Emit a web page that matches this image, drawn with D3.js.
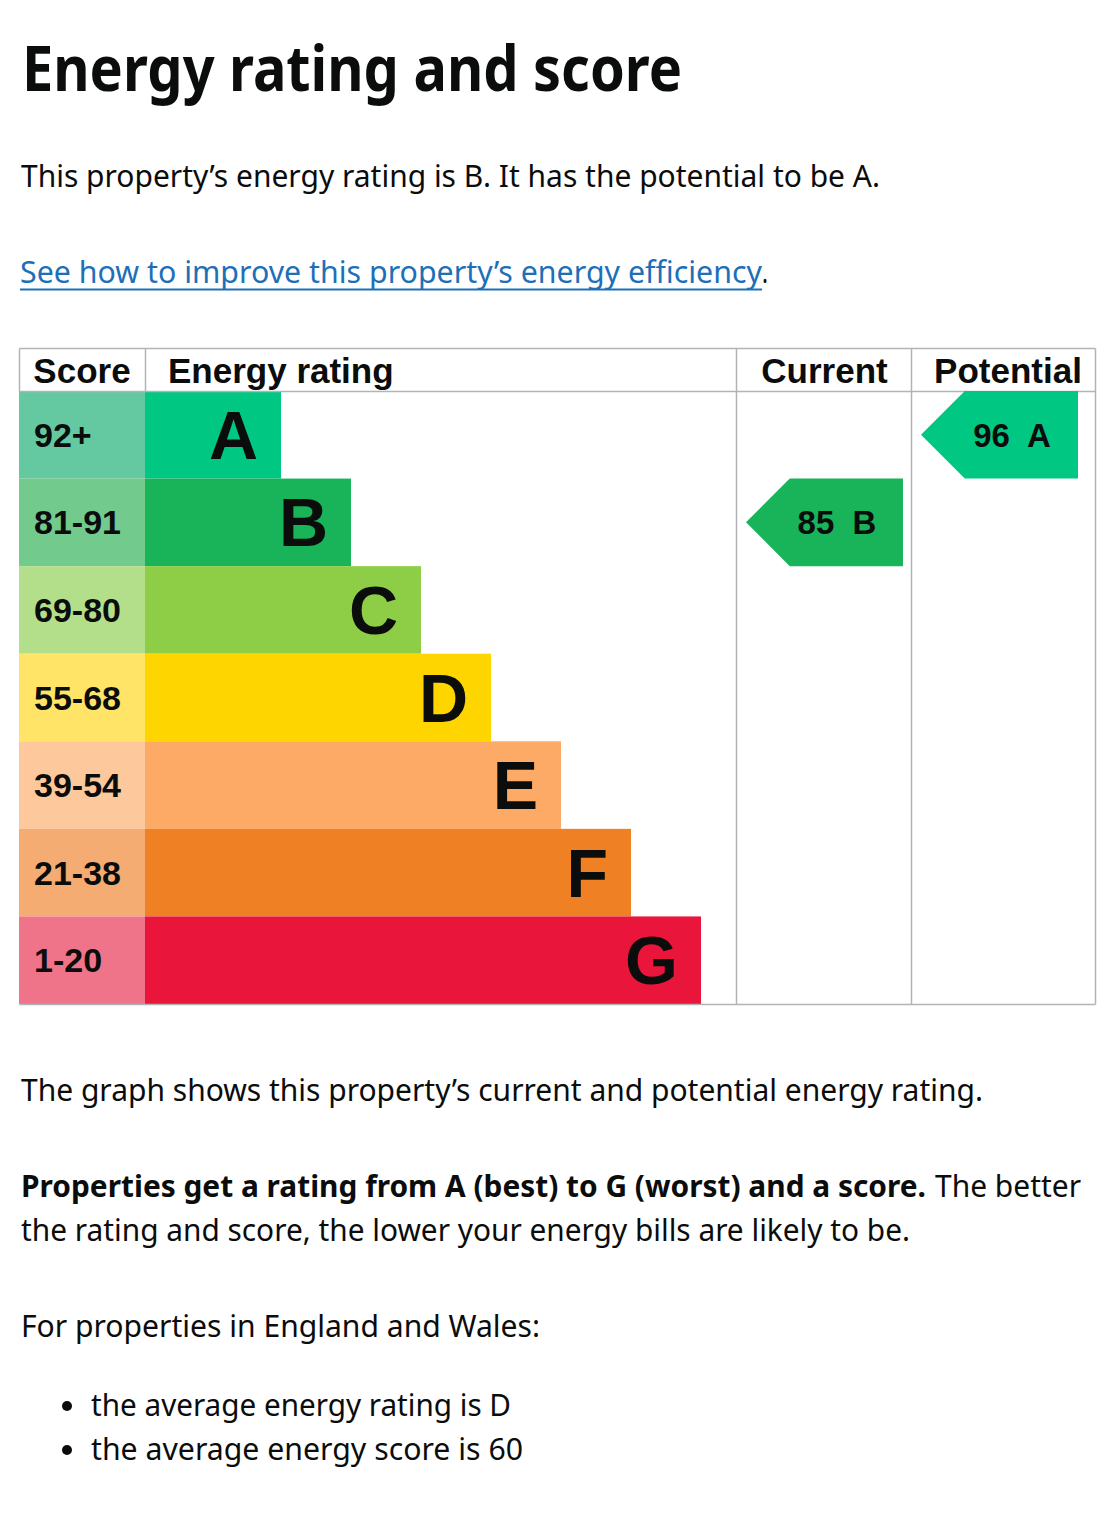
<!DOCTYPE html>
<html>
<head>
<meta charset="utf-8">
<script src="https://cdn.jsdelivr.net/npm/d3@7"></script>
<style>
  body { margin: 0; background: #fff; }
  text { white-space: pre; }
</style>
</head>
<body>
<div id="chart"></div>
<script>
// chart data
var bands = ['A', 'B', 'C', 'D', 'E', 'F', 'G'];
var scoreRanges = ['92+', '81-91', '69-80', '55-68', '39-54', '21-38', '1-20'];
var bandColors = ['#00c781', '#19b459', '#8dce46', '#ffd500', '#fcaa65', '#ef8023', '#e9153b'];
var scoreColors = ['#64c8a0', '#72cb8d', '#b4df8a', '#ffe467', '#fec89d', '#f4ac73', '#f07489'];
var columns = ['Score', 'Energy rating', 'Current', 'Potential'];
var ratings = [
    {column: 'Current', score: 85, band: 'B'},
    {column: 'Potential', score: 96, band: 'A'}
];

var W = 1112, H = 1516;
var arialB = '"Liberation Sans", Arial, sans-serif';
var body = '"Noto Sans", "Open Sans", sans-serif';
var ink = '#0b0c0c', grid = '#b1b4b6';

var svg = d3.select('#chart').append('svg')
    .attr('width', W).attr('height', H);

function para(txt, x, y, len, size, weight, fill) {
    return svg.append('text')
        .attr('x', x).attr('y', y)
        .attr('textLength', len).attr('lengthAdjust', 'spacingAndGlyphs')
        .style('font-family', body).style('font-size', size + 'px')
        .style('font-weight', weight || 400).style('fill', fill || ink)
        .text(txt);
}

// heading + intro
para('Energy rating and score', 22, 91, 660, 62, 700);
para('This property\u2019s energy rating is B. It has the potential to be A.', 21, 187, 859, 30);
para('See how to improve this property\u2019s energy efficiency', 20, 283, 742, 30, 400, '#1d70b8');
svg.append('line').attr('x1', 20).attr('x2', 762).attr('y1', 289.5).attr('y2', 289.5)
    .style('stroke', '#1d70b8').style('stroke-width', 2);
para('.', 762, 283, 6, 30);

// chart layout
var colEdges = [19, 145, 736, 911, 1095];
var headOffset = [0, 23, 1, 5];
var chartTop = 348, headH = 43, chartBottom = 1004;

var y = d3.scaleBand().domain(bands).range([chartTop + headH, chartBottom]);
var barEnd = d3.scaleLinear().domain([0, bands.length - 1]).range([281, 701]);

var g = svg.append('g');

// header cells
g.selectAll('text.head')
    .data(columns)
    .enter()
    .append('text')
    .classed('head', true)
    .attr('x', function(d, i) { return i == 1 ? colEdges[1] + headOffset[i] : (colEdges[i] + colEdges[i + 1]) / 2 + headOffset[i]; })
    .attr('y', chartTop + 35)
    .attr('text-anchor', function(d, i) { return i == 1 ? 'start' : 'middle'; })
    .style('font-family', arialB).style('font-weight', 700).style('font-size', '35px')
    .style('fill', ink)
    .text(function(d) { return d; });

// score cells
g.selectAll('rect.score')
    .data(bands)
    .enter()
    .append('rect')
    .classed('score', true)
    .attr('x', colEdges[0]).attr('y', function(d) { return y(d); })
    .attr('width', colEdges[1] - colEdges[0]).attr('height', y.bandwidth())
    .style('fill', function(d, i) { return scoreColors[i]; });

g.selectAll('text.score')
    .data(bands)
    .enter()
    .append('text')
    .classed('score', true)
    .attr('x', colEdges[0] + 15)
    .attr('y', function(d) { return y(d) + y.bandwidth() / 2 + 12; })
    .style('font-family', arialB).style('font-weight', 700).style('font-size', '34px')
    .style('fill', ink)
    .text(function(d, i) { return scoreRanges[i]; });

// rating bars
g.selectAll('rect.bar')
    .data(bands)
    .enter()
    .append('rect')
    .classed('bar', true)
    .attr('x', colEdges[1]).attr('y', function(d) { return y(d); })
    .attr('width', function(d, i) { return barEnd(i) - colEdges[1]; })
    .attr('height', y.bandwidth())
    .style('fill', function(d, i) { return bandColors[i]; });

g.selectAll('text.bar')
    .data(bands)
    .enter()
    .append('text')
    .classed('bar', true)
    .attr('x', function(d, i) { return barEnd(i) - 23; })
    .attr('y', function(d) { return y(d) + y.bandwidth() / 2 + 24; })
    .attr('text-anchor', 'end')
    .style('font-family', arialB).style('font-weight', 700).style('font-size', '68px')
    .style('fill', ink)
    .text(function(d) { return d; });

// grid lines
var lines = [
    [colEdges[0], chartTop, colEdges[4], chartTop],
    [colEdges[0], chartTop + headH, colEdges[4], chartTop + headH],
    [colEdges[0], chartBottom, colEdges[4], chartBottom],
    [colEdges[0], chartTop, colEdges[0], chartTop + headH],
    [colEdges[1], chartTop, colEdges[1], chartTop + headH],
    [colEdges[2], chartTop, colEdges[2], chartBottom],
    [colEdges[3], chartTop, colEdges[3], chartBottom],
    [colEdges[4], chartTop, colEdges[4], chartBottom]
];
g.selectAll('line.grid')
    .data(lines)
    .enter()
    .append('line')
    .classed('grid', true)
    .attr('x1', function(d) { return d[0] + 0.5; }).attr('y1', function(d) { return d[1] + 0.5; })
    .attr('x2', function(d) { return d[2] + 0.5; }).attr('y2', function(d) { return d[3] + 0.5; })
    .style('stroke', grid).style('stroke-width', 1.5);

// current / potential arrows
var arrowW = 157;
function arrowPath(d) {
    var x0 = colEdges[columns.indexOf(d.column)] + 10;
    var y0 = y(d.band), h = y.bandwidth();
    var p = d3.path();
    p.moveTo(x0, y0 + h / 2);
    p.lineTo(x0 + h / 2, y0);
    p.lineTo(x0 + arrowW, y0);
    p.lineTo(x0 + arrowW, y0 + h);
    p.lineTo(x0 + h / 2, y0 + h);
    p.closePath();
    return p.toString();
}

var arrows = g.selectAll('g.arrow')
    .data(ratings)
    .enter()
    .append('g')
    .classed('arrow', true);

arrows.append('path')
    .attr('d', arrowPath)
    .style('fill', function(d) { return bandColors[bands.indexOf(d.band)]; });

arrows.append('text')
    .attr('x', function(d) { return colEdges[columns.indexOf(d.column)] + 10 + 91; })
    .attr('y', function(d) { return y(d.band) + y.bandwidth() / 2 + 12; })
    .attr('text-anchor', 'middle')
    .style('font-family', arialB).style('font-weight', 700).style('font-size', '33px')
    .style('fill', ink)
    .text(function(d) { return d.score + '  ' + d.band; });

// text below
para('The graph shows this property\u2019s current and potential energy rating.', 21, 1101, 962, 30);
para('Properties get a rating from A (best) to G (worst) and a score.', 21, 1197, 905, 30, 700);
para('The better', 935, 1197, 146, 30);
para('the rating and score, the lower your energy bills are likely to be.', 21, 1241, 889, 30);
para('For properties in England and Wales:', 21, 1337, 519, 30);

var bullets = ['the average energy rating is D', 'the average energy score is 60'];
bullets.forEach(function(b, i) {
    svg.append('circle').attr('cx', 67).attr('cy', 1406 + i * 44).attr('r', 5).style('fill', ink);
    para(b, 91, 1416 + i * 44, i == 0 ? 420 : 432, 30);
});
</script>
</body>
</html>
